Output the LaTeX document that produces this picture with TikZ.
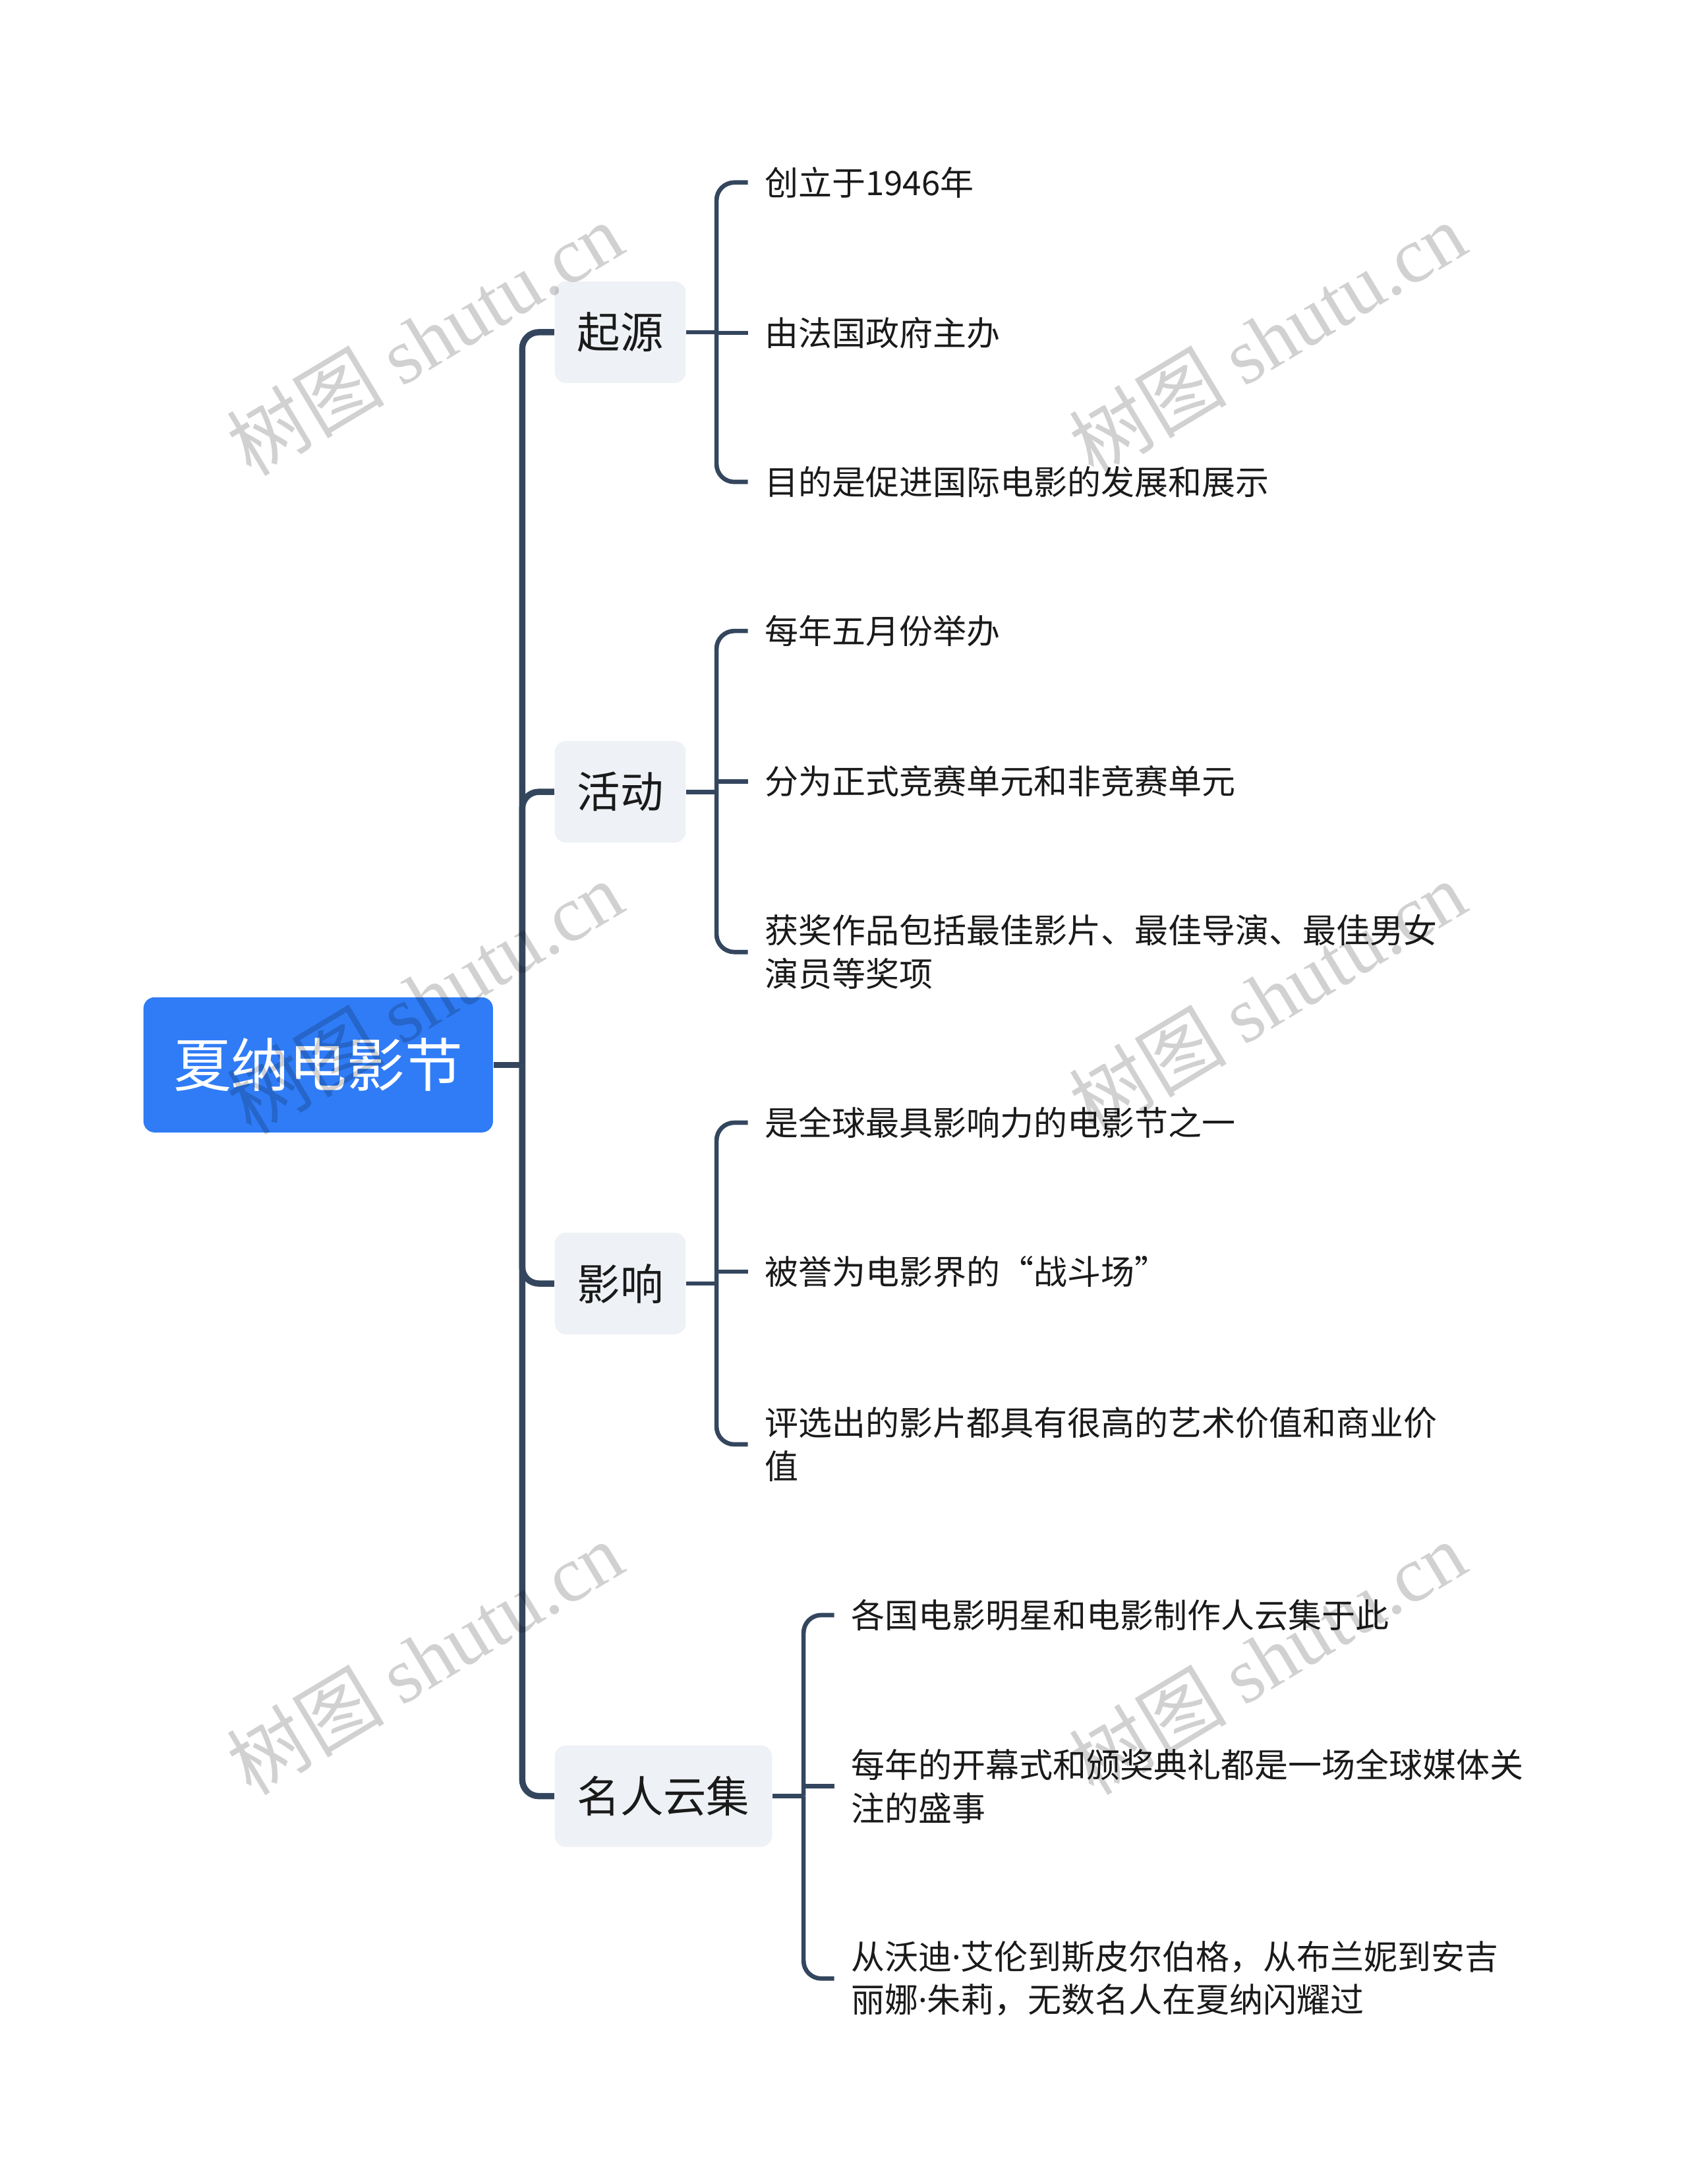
\documentclass[tikz,border=0pt]{standalone}
\usepackage{fontspec}
\setmainfont{Noto Sans CJK SC}
\newfontfamily\marklatin{Liberation Serif}
\newfontfamily\dotfont{Noto Sans}
\usetikzlibrary{positioning, calc}
\definecolor{rootblue}{RGB}{47, 124, 246}
\definecolor{topicgray}{RGB}{238, 241, 245}
\definecolor{linkslate}{RGB}{52, 70, 94}
\definecolor{inkblack}{RGB}{26, 26, 26}
\newcommand{\middot}{{\dotfont ·}}

\begin{document}
\begin{tikzpicture}[x=0.021122cm, y=-0.021122cm,
    rootbox/.style={fill=rootblue, text=white, rounded corners=0.17cm,
          minimum width=5.3cm, minimum height=2.05cm, font=\fontsize{25}{30}\selectfont},
    topicbox/.style={anchor=west, fill=topicgray, text=inkblack, rounded corners=0.17cm,
          inner xsep=0.34cm, minimum height=1.54cm, font=\fontsize{18.6}{22}\selectfont},
    leafbox/.style={anchor=west, text=inkblack, inner xsep=0.25cm, inner ysep=2pt,
          align=left, font=\fontsize{14.5}{18.6}\selectfont},
    trunkline/.style={draw=linkslate, line width=2.7pt, rounded corners=0.25cm},
    leafline/.style={draw=linkslate, line width=1.9pt, rounded corners=0.27cm},
    watermark/.style={rotate=31, text=black, text opacity=0.18,
          font=\fontsize{34}{40}\selectfont}]
    \useasboundingbox (0,0) rectangle (1212,1568);

    % centre and main topics
    \node[rootbox] (root) at (228.5,764.5) {夏纳电影节};
    \node[topicbox] (origin) at (398,238.5) {起源};
    \node[topicbox] (activity) at (398,568.5) {活动};
    \node[topicbox] (influence) at (398,921.5) {影响};
    \node[topicbox] (fame) at (398,1289.5) {名人云集};

    \coordinate (hub) at (375,764.5);
    \draw[trunkline] (root.east) -- (hub);
    \foreach \t in {origin, activity, influence, fame}
        \draw[trunkline] (hub) |- (\t.west);

    % leaves
    \node[leafbox] (o1) at (537,131) {创立于1946年};
    \node[leafbox] (o2) at (537,239) {由法国政府主办};
    \node[leafbox] (o3) at (537,346) {目的是促进国际电影的发展和展示};

    \node[leafbox] (a1) at (537,453) {每年五月份举办};
    \node[leafbox] (a2) at (537,561) {分为正式竞赛单元和非竞赛单元};
    \node[leafbox] (a3) at (537,683.5) {获奖作品包括最佳影片、最佳导演、最佳男女\\演员等奖项};

    \node[leafbox] (i1) at (537,806) {是全球最具影响力的电影节之一};
    \node[leafbox] (i2) at (537,913) {被誉为电影界的“战斗场”};
    \node[leafbox] (i3) at (537,1037) {评选出的影片都具有很高的艺术价值和商业价\\值};

    \node[leafbox] (c1) at (599,1159.5) {各国电影明星和电影制作人云集于此};
    \node[leafbox] (c2) at (599,1282.5) {每年的开幕式和颁奖典礼都是一场全球媒体关\\注的盛事};
    \node[leafbox] (c3) at (599,1420.5) {从沃迪\middot 艾伦到斯皮尔伯格，从布兰妮到安吉\\丽娜\middot 朱莉，无数名人在夏纳闪耀过};

    \coordinate (oj) at (514.5,238.5);
    \coordinate (aj) at (514.5,568.5);
    \coordinate (ij) at (514.5,921.5);
    \coordinate (cj) at (577,1289.5);

    \foreach \b/\j/\l in {origin/oj/o, activity/aj/a, influence/ij/i, fame/cj/c} {
        \draw[leafline] (\b.east) -- (\j);
        \draw[leafline] (\j) |- (\l1.west);
        \draw[leafline] (\l2.west -| \j) -- (\l2.west);
        \draw[leafline] (\j) |- (\l3.west);
    }

    % watermarks
    \foreach \wx/\wy [count=\k] in {305/243, 305/716, 305/1190, 910/243, 910/716, 910/1190}
        \node[watermark] (mark\k) at (\wx,\wy) {树图 {\marklatin shutu.cn}};
\end{tikzpicture}
\end{document}
